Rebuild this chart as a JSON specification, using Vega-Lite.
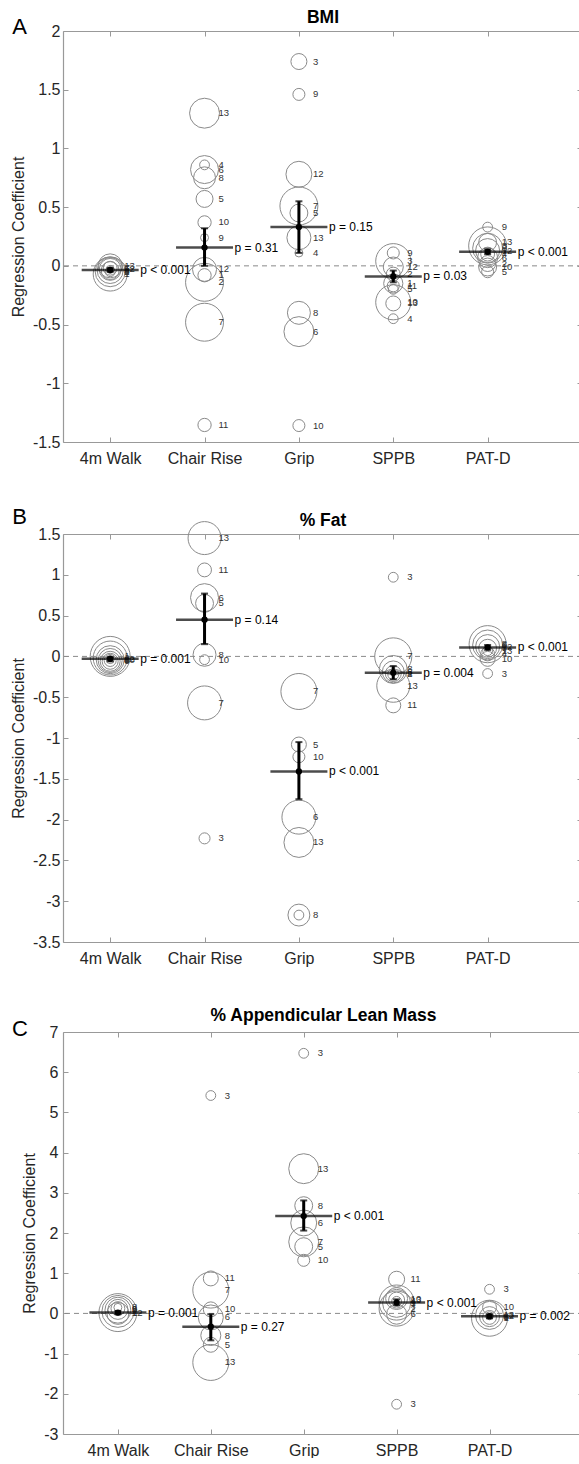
{
"$schema": "https://vega.github.io/schema/vega-lite/v6.json",
"background": "white",
"padding": {"left": 10, "top": 8, "right": 0, "bottom": 0},
"spacing": 40,
"config": {
  "font": "Liberation Sans",
  "view": {"stroke": null},
  "axis": {"domainColor": "#999999", "domainWidth": 1.2, "tickColor": "#999999", "tickWidth": 1, "tickSize": -5, "labelColor": "#262626", "labelFontSize": 16, "labelFont": "Liberation Sans", "titleFont": "Liberation Sans", "titleFontSize": 16, "titleFontWeight": "normal", "titleColor": "#262626", "grid": false, "minExtent": 0},
  "title": {"font": "Liberation Sans", "color": "#000000"}
},
"datasets": {
  "circ": [
    {"p":"A","cat":"4m Walk","v":-0.07,"w":72,"n":"1"},
    {"p":"A","cat":"4m Walk","v":-0.05,"w":56,"n":"2"},
    {"p":"A","cat":"4m Walk","v":-0.04,"w":42,"n":"4"},
    {"p":"A","cat":"4m Walk","v":-0.03,"w":30,"n":"5"},
    {"p":"A","cat":"4m Walk","v":-0.04,"w":20,"n":"6"},
    {"p":"A","cat":"4m Walk","v":-0.02,"w":12,"n":"7"},
    {"p":"A","cat":"4m Walk","v":-0.05,"w":6,"n":"8"},
    {"p":"A","cat":"4m Walk","v":-0.03,"w":4,"n":"12"},
    {"p":"A","cat":"4m Walk","v":0.0,"w":36,"n":"13"},
    {"p":"A","cat":"Chair Rise","v":1.30,"w":56,"n":"13"},
    {"p":"A","cat":"Chair Rise","v":0.86,"w":6,"n":"4"},
    {"p":"A","cat":"Chair Rise","v":0.82,"w":49,"n":"6"},
    {"p":"A","cat":"Chair Rise","v":0.75,"w":30,"n":"8"},
    {"p":"A","cat":"Chair Rise","v":0.57,"w":18,"n":"5"},
    {"p":"A","cat":"Chair Rise","v":0.37,"w":11,"n":"10"},
    {"p":"A","cat":"Chair Rise","v":0.24,"w":4,"n":"9"},
    {"p":"A","cat":"Chair Rise","v":-0.03,"w":36,"n":"12"},
    {"p":"A","cat":"Chair Rise","v":-0.08,"w":11,"n":"1"},
    {"p":"A","cat":"Chair Rise","v":-0.14,"w":90,"n":"2"},
    {"p":"A","cat":"Chair Rise","v":-0.48,"w":90,"n":"7"},
    {"p":"A","cat":"Chair Rise","v":-1.355,"w":11,"n":"11"},
    {"p":"A","cat":"Grip","v":1.74,"w":16,"n":"3"},
    {"p":"A","cat":"Grip","v":1.46,"w":9,"n":"9"},
    {"p":"A","cat":"Grip","v":0.78,"w":42,"n":"12"},
    {"p":"A","cat":"Grip","v":0.51,"w":90,"n":"7"},
    {"p":"A","cat":"Grip","v":0.45,"w":20,"n":"5"},
    {"p":"A","cat":"Grip","v":0.24,"w":36,"n":"13"},
    {"p":"A","cat":"Grip","v":0.11,"w":4,"n":"4"},
    {"p":"A","cat":"Grip","v":-0.40,"w":33,"n":"8"},
    {"p":"A","cat":"Grip","v":-0.56,"w":56,"n":"6"},
    {"p":"A","cat":"Grip","v":-1.36,"w":9,"n":"10"},
    {"p":"A","cat":"SPPB","v":0.11,"w":9,"n":"9"},
    {"p":"A","cat":"SPPB","v":0.04,"w":77,"n":"3"},
    {"p":"A","cat":"SPPB","v":-0.01,"w":25,"n":"12"},
    {"p":"A","cat":"SPPB","v":-0.07,"w":12,"n":"2"},
    {"p":"A","cat":"SPPB","v":-0.15,"w":23,"n":"1"},
    {"p":"A","cat":"SPPB","v":-0.17,"w":9,"n":"11"},
    {"p":"A","cat":"SPPB","v":-0.20,"w":6,"n":"5"},
    {"p":"A","cat":"SPPB","v":-0.31,"w":77,"n":"10"},
    {"p":"A","cat":"SPPB","v":-0.32,"w":14,"n":"13"},
    {"p":"A","cat":"SPPB","v":-0.45,"w":6,"n":"4"},
    {"p":"A","cat":"PAT-D","v":0.33,"w":6,"n":"9"},
    {"p":"A","cat":"PAT-D","v":0.17,"w":90,"n":"3"},
    {"p":"A","cat":"PAT-D","v":0.20,"w":20,"n":"13"},
    {"p":"A","cat":"PAT-D","v":0.15,"w":56,"n":"8"},
    {"p":"A","cat":"PAT-D","v":0.13,"w":36,"n":"12"},
    {"p":"A","cat":"PAT-D","v":0.10,"w":12,"n":"4"},
    {"p":"A","cat":"PAT-D","v":0.07,"w":25,"n":"6"},
    {"p":"A","cat":"PAT-D","v":0.02,"w":16,"n":"2"},
    {"p":"A","cat":"PAT-D","v":-0.01,"w":20,"n":"10"},
    {"p":"A","cat":"PAT-D","v":-0.05,"w":9,"n":"5"},

    {"p":"B","cat":"4m Walk","v":0.0,"w":100,"n":"1"},
    {"p":"B","cat":"4m Walk","v":-0.02,"w":72,"n":"2"},
    {"p":"B","cat":"4m Walk","v":-0.04,"w":49,"n":"4"},
    {"p":"B","cat":"4m Walk","v":-0.05,"w":36,"n":"5"},
    {"p":"B","cat":"4m Walk","v":-0.06,"w":25,"n":"6"},
    {"p":"B","cat":"4m Walk","v":-0.06,"w":16,"n":"7"},
    {"p":"B","cat":"4m Walk","v":-0.05,"w":9,"n":"8"},
    {"p":"B","cat":"4m Walk","v":-0.04,"w":4,"n":"10"},
    {"p":"B","cat":"4m Walk","v":-0.03,"w":2.25,"n":"12"},
    {"p":"B","cat":"Chair Rise","v":1.45,"w":68,"n":"13"},
    {"p":"B","cat":"Chair Rise","v":1.06,"w":12,"n":"11"},
    {"p":"B","cat":"Chair Rise","v":0.72,"w":49,"n":"6"},
    {"p":"B","cat":"Chair Rise","v":0.65,"w":20,"n":"5"},
    {"p":"B","cat":"Chair Rise","v":0.02,"w":33,"n":"8"},
    {"p":"B","cat":"Chair Rise","v":-0.04,"w":6,"n":"10"},
    {"p":"B","cat":"Chair Rise","v":-0.57,"w":72,"n":"7"},
    {"p":"B","cat":"Chair Rise","v":-2.23,"w":7.6,"n":"3"},
    {"p":"B","cat":"Grip","v":-0.43,"w":81,"n":"7"},
    {"p":"B","cat":"Grip","v":-1.08,"w":14,"n":"5"},
    {"p":"B","cat":"Grip","v":-1.23,"w":9,"n":"10"},
    {"p":"B","cat":"Grip","v":-1.97,"w":72,"n":"6"},
    {"p":"B","cat":"Grip","v":-2.28,"w":56,"n":"13"},
    {"p":"B","cat":"Grip","v":-3.17,"w":30,"n":"8"},
    {"p":"B","cat":"Grip","v":-3.17,"w":6,"n":""},
    {"p":"B","cat":"SPPB","v":0.97,"w":6,"n":"3"},
    {"p":"B","cat":"SPPB","v":0.0,"w":86,"n":"7"},
    {"p":"B","cat":"SPPB","v":-0.16,"w":49,"n":"8"},
    {"p":"B","cat":"SPPB","v":-0.19,"w":30,"n":"6"},
    {"p":"B","cat":"SPPB","v":-0.21,"w":16,"n":"2"},
    {"p":"B","cat":"SPPB","v":-0.22,"w":7.6,"n":"4"},
    {"p":"B","cat":"SPPB","v":-0.36,"w":68,"n":"13"},
    {"p":"B","cat":"SPPB","v":-0.60,"w":14,"n":"11"},
    {"p":"B","cat":"PAT-D","v":0.15,"w":86,"n":"8"},
    {"p":"B","cat":"PAT-D","v":0.14,"w":56,"n":"6"},
    {"p":"B","cat":"PAT-D","v":0.12,"w":36,"n":"12"},
    {"p":"B","cat":"PAT-D","v":0.10,"w":20,"n":"5"},
    {"p":"B","cat":"PAT-D","v":0.07,"w":6,"n":"13"},
    {"p":"B","cat":"PAT-D","v":0.03,"w":12,"n":"4"},
    {"p":"B","cat":"PAT-D","v":-0.03,"w":14,"n":"10"},
    {"p":"B","cat":"PAT-D","v":-0.21,"w":6,"n":"3"},

    {"p":"C","cat":"4m Walk","v":0.02,"w":90,"n":"1"},
    {"p":"C","cat":"4m Walk","v":0.05,"w":64,"n":"2"},
    {"p":"C","cat":"4m Walk","v":0.08,"w":42,"n":"4"},
    {"p":"C","cat":"4m Walk","v":0.10,"w":25,"n":"5"},
    {"p":"C","cat":"4m Walk","v":0.12,"w":12,"n":"6"},
    {"p":"C","cat":"4m Walk","v":0.15,"w":4,"n":"8"},
    {"p":"C","cat":"4m Walk","v":0.0,"w":30,"n":"12"},
    {"p":"C","cat":"Chair Rise","v":5.42,"w":6,"n":"3"},
    {"p":"C","cat":"Chair Rise","v":0.87,"w":14,"n":"11"},
    {"p":"C","cat":"Chair Rise","v":0.58,"w":81,"n":"7"},
    {"p":"C","cat":"Chair Rise","v":0.10,"w":14,"n":"10"},
    {"p":"C","cat":"Chair Rise","v":-0.10,"w":39,"n":"6"},
    {"p":"C","cat":"Chair Rise","v":-0.55,"w":25,"n":"8"},
    {"p":"C","cat":"Chair Rise","v":-0.78,"w":14,"n":"5"},
    {"p":"C","cat":"Chair Rise","v":-1.22,"w":81,"n":"13"},
    {"p":"C","cat":"Grip","v":6.47,"w":6,"n":"3"},
    {"p":"C","cat":"Grip","v":3.60,"w":56,"n":"13"},
    {"p":"C","cat":"Grip","v":2.68,"w":20,"n":"8"},
    {"p":"C","cat":"Grip","v":2.25,"w":42,"n":"6"},
    {"p":"C","cat":"Grip","v":1.78,"w":56,"n":"7"},
    {"p":"C","cat":"Grip","v":1.66,"w":20,"n":"5"},
    {"p":"C","cat":"Grip","v":1.32,"w":9,"n":"10"},
    {"p":"C","cat":"SPPB","v":0.85,"w":16,"n":"11"},
    {"p":"C","cat":"SPPB","v":0.37,"w":30,"n":"10"},
    {"p":"C","cat":"SPPB","v":0.33,"w":16,"n":"13"},
    {"p":"C","cat":"SPPB","v":0.27,"w":77,"n":"1"},
    {"p":"C","cat":"SPPB","v":0.25,"w":49,"n":"9"},
    {"p":"C","cat":"SPPB","v":0.30,"w":6,"n":"4"},
    {"p":"C","cat":"SPPB","v":0.12,"w":77,"n":"2"},
    {"p":"C","cat":"SPPB","v":-0.02,"w":25,"n":"6"},
    {"p":"C","cat":"SPPB","v":-2.26,"w":6,"n":"3"},
    {"p":"C","cat":"PAT-D","v":0.60,"w":6,"n":"3"},
    {"p":"C","cat":"PAT-D","v":0.15,"w":12,"n":"10"},
    {"p":"C","cat":"PAT-D","v":-0.05,"w":49,"n":"13"},
    {"p":"C","cat":"PAT-D","v":-0.08,"w":25,"n":"8"},
    {"p":"C","cat":"PAT-D","v":-0.12,"w":81,"n":"1"},
    {"p":"C","cat":"PAT-D","v":-0.10,"w":12,"n":"5"},
    {"p":"C","cat":"PAT-D","v":-0.06,"w":4,"n":"12"}
  ],
  "summ": [
    {"p":"A","cat":"4m Walk","est":-0.035,"lo":-0.05,"hi":-0.02,"pt":"p < 0.001"},
    {"p":"A","cat":"Chair Rise","est":0.156,"lo":0.0,"hi":0.32,"pt":"p = 0.31"},
    {"p":"A","cat":"Grip","est":0.33,"lo":0.11,"hi":0.55,"pt":"p = 0.15"},
    {"p":"A","cat":"SPPB","est":-0.09,"lo":-0.14,"hi":-0.04,"pt":"p = 0.03"},
    {"p":"A","cat":"PAT-D","est":0.12,"lo":0.10,"hi":0.14,"pt":"p < 0.001"},
    {"p":"B","cat":"4m Walk","est":-0.03,"lo":-0.06,"hi":-0.01,"pt":"p = 0.001"},
    {"p":"B","cat":"Chair Rise","est":0.45,"lo":0.15,"hi":0.77,"pt":"p = 0.14"},
    {"p":"B","cat":"Grip","est":-1.41,"lo":-1.75,"hi":-1.05,"pt":"p < 0.001"},
    {"p":"B","cat":"SPPB","est":-0.20,"lo":-0.28,"hi":-0.12,"pt":"p = 0.004"},
    {"p":"B","cat":"PAT-D","est":0.11,"lo":0.08,"hi":0.14,"pt":"p < 0.001"},
    {"p":"C","cat":"4m Walk","est":0.02,"lo":-0.02,"hi":0.06,"pt":"p = 0.001"},
    {"p":"C","cat":"Chair Rise","est":-0.33,"lo":-0.67,"hi":-0.02,"pt":"p = 0.27"},
    {"p":"C","cat":"Grip","est":2.42,"lo":2.06,"hi":2.81,"pt":"p < 0.001"},
    {"p":"C","cat":"SPPB","est":0.27,"lo":0.20,"hi":0.35,"pt":"p < 0.001"},
    {"p":"C","cat":"PAT-D","est":-0.07,"lo":-0.12,"hi":-0.03,"pt":"p = 0.002"}
  ]
},
"vconcat": [
{
  "width": 519, "height": 411,
  "layer": [
    {"data": {"values": [{"ref": 0}]}, "mark": {"type": "rule", "strokeDash": [5, 4], "color": "#8a8a8a", "strokeWidth": 1},
     "encoding": {"y": {"field": "ref", "type": "quantitative", "scale": {"domain": [-1.5, 2], "nice": false, "zero": false}, "axis": {"orient": "right", "values": [-1.5, -1, -0.5, 0, 0.5, 1, 1.5, 2], "labels": false, "title": null}}}},
    {"data": {"name": "circ"}, "transform": [{"filter": "datum.p == 'A'"}],
     "mark": {"type": "point", "shape": "circle", "filled": false, "stroke": "#8a8a8a", "strokeWidth": 1, "opacity": 1},
     "encoding": {
       "x": {"field": "cat", "type": "nominal", "scale": {"type": "point", "domain": ["4m Walk", "Chair Rise", "Grip", "SPPB", "PAT-D"], "padding": 0.75, "align": 0.3333}, "axis": {"orient": "bottom", "title": null, "labelAngle": 0, "labelPadding": 13}},
       "y": {"field": "v", "type": "quantitative", "scale": {"domain": [-1.5, 2], "nice": false, "zero": false}, "axis": {"orient": "left", "values": [-1.5, -1, -0.5, 0, 0.5, 1, 1.5, 2], "labelExpr": "'' + datum.value", "title": "Regression Coefficient", "labelPadding": 8, "titlePadding": 6}},
       "size": {"field": "w", "type": "quantitative", "scale": {"domain": [0, 100], "range": [0, 1600]}, "legend": null}
     }},
    {"data": {"name": "circ"}, "transform": [{"filter": "datum.p == 'A'"}],
     "mark": {"type": "text", "align": "left", "baseline": "middle", "dx": 14, "fontSize": 9.5, "color": "#333333"},
     "encoding": {
       "x": {"field": "cat", "type": "nominal", "scale": {"type": "point", "domain": ["4m Walk", "Chair Rise", "Grip", "SPPB", "PAT-D"], "padding": 0.75, "align": 0.3333}, "axis": {"orient": "top", "labels": false, "title": "BMI", "titleFontSize": 17.5, "titleFontWeight": "bold", "titleColor": "#000000", "titlePadding": 4}},
       "y": {"field": "v", "type": "quantitative", "scale": {"domain": [-1.5, 2], "nice": false, "zero": false}, "axis": null},
       "text": {"field": "n"}
     }},
    {"data": {"values": [{"lbl": "A"}]},
     "mark": {"type": "text", "align": "left", "baseline": "alphabetic", "dx": -98, "dy": 3, "fontSize": 22, "color": "#000000"},
     "encoding": {
       "x": {"datum": "4m Walk", "type": "nominal", "scale": {"type": "point", "domain": ["4m Walk", "Chair Rise", "Grip", "SPPB", "PAT-D"], "padding": 0.75, "align": 0.3333}, "axis": null},
       "y": {"datum": 2, "type": "quantitative", "scale": {"domain": [-1.5, 2], "nice": false, "zero": false}, "axis": null},
       "text": {"field": "lbl"}
     }},
    {"data": {"name": "summ"}, "transform": [{"filter": "datum.p == 'A'"}],
     "layer": [
       {"mark": {"type": "rule", "color": "#000000", "strokeWidth": 3}, "encoding": {"y": {"field": "lo", "type": "quantitative", "scale": {"domain": [-1.5, 2], "nice": false, "zero": false}, "axis": null}, "y2": {"field": "hi"}}},
       {"mark": {"type": "tick", "color": "#000000", "size": 57, "thickness": 2.5}, "encoding": {"y": {"field": "est", "type": "quantitative", "scale": {"domain": [-1.5, 2], "nice": false, "zero": false}, "axis": null}}},
       {"mark": {"type": "tick", "color": "#000000", "size": 7, "thickness": 2}, "encoding": {"y": {"field": "lo", "type": "quantitative", "scale": {"domain": [-1.5, 2], "nice": false, "zero": false}, "axis": null}}},
       {"mark": {"type": "tick", "color": "#000000", "size": 7, "thickness": 2}, "encoding": {"y": {"field": "hi", "type": "quantitative", "scale": {"domain": [-1.5, 2], "nice": false, "zero": false}, "axis": null}}},
       {"mark": {"type": "point", "shape": "circle", "filled": true, "color": "#000000", "size": 40, "opacity": 1}, "encoding": {"y": {"field": "est", "type": "quantitative", "scale": {"domain": [-1.5, 2], "nice": false, "zero": false}, "axis": null}}},
       {"mark": {"type": "text", "align": "left", "baseline": "middle", "dx": 30, "fontSize": 12, "color": "#000000"}, "encoding": {"y": {"field": "est", "type": "quantitative", "scale": {"domain": [-1.5, 2], "nice": false, "zero": false}, "axis": null}, "text": {"field": "pt"}}}
     ],
     "encoding": {"x": {"field": "cat", "type": "nominal", "scale": {"type": "point", "domain": ["4m Walk", "Chair Rise", "Grip", "SPPB", "PAT-D"], "padding": 0.75, "align": 0.3333}, "axis": null}}}
  ],
  "resolve": {"axis": {"x": "independent", "y": "independent"}}
},
{
  "width": 519, "height": 408,
  "layer": [
    {"data": {"values": [{"ref": 0}]}, "mark": {"type": "rule", "strokeDash": [5, 4], "color": "#8a8a8a", "strokeWidth": 1},
     "encoding": {"y": {"field": "ref", "type": "quantitative", "scale": {"domain": [-3.5, 1.5], "nice": false, "zero": false}, "axis": {"orient": "right", "values": [-3.5, -3, -2.5, -2, -1.5, -1, -0.5, 0, 0.5, 1, 1.5], "labels": false, "title": null}}}},
    {"data": {"name": "circ"}, "transform": [{"filter": "datum.p == 'B'"}],
     "mark": {"type": "point", "shape": "circle", "filled": false, "stroke": "#8a8a8a", "strokeWidth": 1, "opacity": 1},
     "encoding": {
       "x": {"field": "cat", "type": "nominal", "scale": {"type": "point", "domain": ["4m Walk", "Chair Rise", "Grip", "SPPB", "PAT-D"], "padding": 0.75, "align": 0.3333}, "axis": {"orient": "bottom", "title": null, "labelAngle": 0, "labelPadding": 13}},
       "y": {"field": "v", "type": "quantitative", "scale": {"domain": [-3.5, 1.5], "nice": false, "zero": false}, "axis": {"orient": "left", "values": [-3.5, -3, -2.5, -2, -1.5, -1, -0.5, 0, 0.5, 1, 1.5], "labelExpr": "'' + datum.value", "title": "Regression Coefficient", "labelPadding": 8, "titlePadding": 6}},
       "size": {"field": "w", "type": "quantitative", "scale": {"domain": [0, 100], "range": [0, 1600]}, "legend": null}
     }},
    {"data": {"name": "circ"}, "transform": [{"filter": "datum.p == 'B'"}],
     "mark": {"type": "text", "align": "left", "baseline": "middle", "dx": 14, "fontSize": 9.5, "color": "#333333"},
     "encoding": {
       "x": {"field": "cat", "type": "nominal", "scale": {"type": "point", "domain": ["4m Walk", "Chair Rise", "Grip", "SPPB", "PAT-D"], "padding": 0.75, "align": 0.3333}, "axis": {"orient": "top", "labels": false, "title": "% Fat", "titleFontSize": 17.5, "titleFontWeight": "bold", "titleColor": "#000000", "titlePadding": 4}},
       "y": {"field": "v", "type": "quantitative", "scale": {"domain": [-3.5, 1.5], "nice": false, "zero": false}, "axis": null},
       "text": {"field": "n"}
     }},
    {"data": {"values": [{"lbl": "B"}]},
     "mark": {"type": "text", "align": "left", "baseline": "alphabetic", "dx": -98, "dy": -10, "fontSize": 22, "color": "#000000"},
     "encoding": {
       "x": {"datum": "4m Walk", "type": "nominal", "scale": {"type": "point", "domain": ["4m Walk", "Chair Rise", "Grip", "SPPB", "PAT-D"], "padding": 0.75, "align": 0.3333}, "axis": null},
       "y": {"datum": 1.5, "type": "quantitative", "scale": {"domain": [-3.5, 1.5], "nice": false, "zero": false}, "axis": null},
       "text": {"field": "lbl"}
     }},
    {"data": {"name": "summ"}, "transform": [{"filter": "datum.p == 'B'"}],
     "layer": [
       {"mark": {"type": "rule", "color": "#000000", "strokeWidth": 3}, "encoding": {"y": {"field": "lo", "type": "quantitative", "scale": {"domain": [-3.5, 1.5], "nice": false, "zero": false}, "axis": null}, "y2": {"field": "hi"}}},
       {"mark": {"type": "tick", "color": "#000000", "size": 57, "thickness": 2.5}, "encoding": {"y": {"field": "est", "type": "quantitative", "scale": {"domain": [-3.5, 1.5], "nice": false, "zero": false}, "axis": null}}},
       {"mark": {"type": "tick", "color": "#000000", "size": 7, "thickness": 2}, "encoding": {"y": {"field": "lo", "type": "quantitative", "scale": {"domain": [-3.5, 1.5], "nice": false, "zero": false}, "axis": null}}},
       {"mark": {"type": "tick", "color": "#000000", "size": 7, "thickness": 2}, "encoding": {"y": {"field": "hi", "type": "quantitative", "scale": {"domain": [-3.5, 1.5], "nice": false, "zero": false}, "axis": null}}},
       {"mark": {"type": "point", "shape": "circle", "filled": true, "color": "#000000", "size": 40, "opacity": 1}, "encoding": {"y": {"field": "est", "type": "quantitative", "scale": {"domain": [-3.5, 1.5], "nice": false, "zero": false}, "axis": null}}},
       {"mark": {"type": "text", "align": "left", "baseline": "middle", "dx": 30, "fontSize": 12, "color": "#000000"}, "encoding": {"y": {"field": "est", "type": "quantitative", "scale": {"domain": [-3.5, 1.5], "nice": false, "zero": false}, "axis": null}, "text": {"field": "pt"}}}
     ],
     "encoding": {"x": {"field": "cat", "type": "nominal", "scale": {"type": "point", "domain": ["4m Walk", "Chair Rise", "Grip", "SPPB", "PAT-D"], "padding": 0.75, "align": 0.3333}, "axis": null}}}
  ],
  "resolve": {"axis": {"x": "independent", "y": "independent"}}
},
{
  "width": 520, "height": 402,
  "layer": [
    {"data": {"values": [{"ref": 0}]}, "mark": {"type": "rule", "strokeDash": [5, 4], "color": "#8a8a8a", "strokeWidth": 1},
     "encoding": {"y": {"field": "ref", "type": "quantitative", "scale": {"domain": [-3, 7], "nice": false, "zero": false}, "axis": {"orient": "right", "values": [-3, -2, -1, 0, 1, 2, 3, 4, 5, 6, 7], "labels": false, "title": null}}}},
    {"data": {"name": "circ"}, "transform": [{"filter": "datum.p == 'C'"}],
     "mark": {"type": "point", "shape": "circle", "filled": false, "stroke": "#8a8a8a", "strokeWidth": 1, "opacity": 1},
     "encoding": {
       "x": {"field": "cat", "type": "nominal", "scale": {"type": "point", "domain": ["4m Walk", "Chair Rise", "Grip", "SPPB", "PAT-D"], "padding": 0.7985, "align": 0.37}, "axis": {"orient": "bottom", "title": null, "labelAngle": 0, "labelPadding": 13}},
       "y": {"field": "v", "type": "quantitative", "scale": {"domain": [-3, 7], "nice": false, "zero": false}, "axis": {"orient": "left", "values": [-3, -2, -1, 0, 1, 2, 3, 4, 5, 6, 7], "labelExpr": "'' + datum.value", "title": "Regression Coefficient", "labelPadding": 10, "titlePadding": 6}},
       "size": {"field": "w", "type": "quantitative", "scale": {"domain": [0, 100], "range": [0, 1600]}, "legend": null}
     }},
    {"data": {"name": "circ"}, "transform": [{"filter": "datum.p == 'C'"}],
     "mark": {"type": "text", "align": "left", "baseline": "middle", "dx": 14, "fontSize": 9.5, "color": "#333333"},
     "encoding": {
       "x": {"field": "cat", "type": "nominal", "scale": {"type": "point", "domain": ["4m Walk", "Chair Rise", "Grip", "SPPB", "PAT-D"], "padding": 0.7985, "align": 0.37}, "axis": {"orient": "top", "labels": false, "title": "% Appendicular Lean Mass", "titleFontSize": 17.5, "titleFontWeight": "bold", "titleColor": "#000000", "titlePadding": 7}},
       "y": {"field": "v", "type": "quantitative", "scale": {"domain": [-3, 7], "nice": false, "zero": false}, "axis": null},
       "text": {"field": "n"}
     }},
    {"data": {"values": [{"lbl": "C"}]},
     "mark": {"type": "text", "align": "left", "baseline": "alphabetic", "dx": -106, "dy": 4, "fontSize": 22, "color": "#000000"},
     "encoding": {
       "x": {"datum": "4m Walk", "type": "nominal", "scale": {"type": "point", "domain": ["4m Walk", "Chair Rise", "Grip", "SPPB", "PAT-D"], "padding": 0.7985, "align": 0.37}, "axis": null},
       "y": {"datum": 7, "type": "quantitative", "scale": {"domain": [-3, 7], "nice": false, "zero": false}, "axis": null},
       "text": {"field": "lbl"}
     }},
    {"data": {"name": "summ"}, "transform": [{"filter": "datum.p == 'C'"}],
     "layer": [
       {"mark": {"type": "rule", "color": "#000000", "strokeWidth": 3}, "encoding": {"y": {"field": "lo", "type": "quantitative", "scale": {"domain": [-3, 7], "nice": false, "zero": false}, "axis": null}, "y2": {"field": "hi"}}},
       {"mark": {"type": "tick", "color": "#000000", "size": 57, "thickness": 2.5}, "encoding": {"y": {"field": "est", "type": "quantitative", "scale": {"domain": [-3, 7], "nice": false, "zero": false}, "axis": null}}},
       {"mark": {"type": "tick", "color": "#000000", "size": 7, "thickness": 2}, "encoding": {"y": {"field": "lo", "type": "quantitative", "scale": {"domain": [-3, 7], "nice": false, "zero": false}, "axis": null}}},
       {"mark": {"type": "tick", "color": "#000000", "size": 7, "thickness": 2}, "encoding": {"y": {"field": "hi", "type": "quantitative", "scale": {"domain": [-3, 7], "nice": false, "zero": false}, "axis": null}}},
       {"mark": {"type": "point", "shape": "circle", "filled": true, "color": "#000000", "size": 40, "opacity": 1}, "encoding": {"y": {"field": "est", "type": "quantitative", "scale": {"domain": [-3, 7], "nice": false, "zero": false}, "axis": null}}},
       {"mark": {"type": "text", "align": "left", "baseline": "middle", "dx": 30, "fontSize": 12, "color": "#000000"}, "encoding": {"y": {"field": "est", "type": "quantitative", "scale": {"domain": [-3, 7], "nice": false, "zero": false}, "axis": null}, "text": {"field": "pt"}}}
     ],
     "encoding": {"x": {"field": "cat", "type": "nominal", "scale": {"type": "point", "domain": ["4m Walk", "Chair Rise", "Grip", "SPPB", "PAT-D"], "padding": 0.7985, "align": 0.37}, "axis": null}}}
  ],
  "resolve": {"axis": {"x": "independent", "y": "independent"}}
}
]
}
